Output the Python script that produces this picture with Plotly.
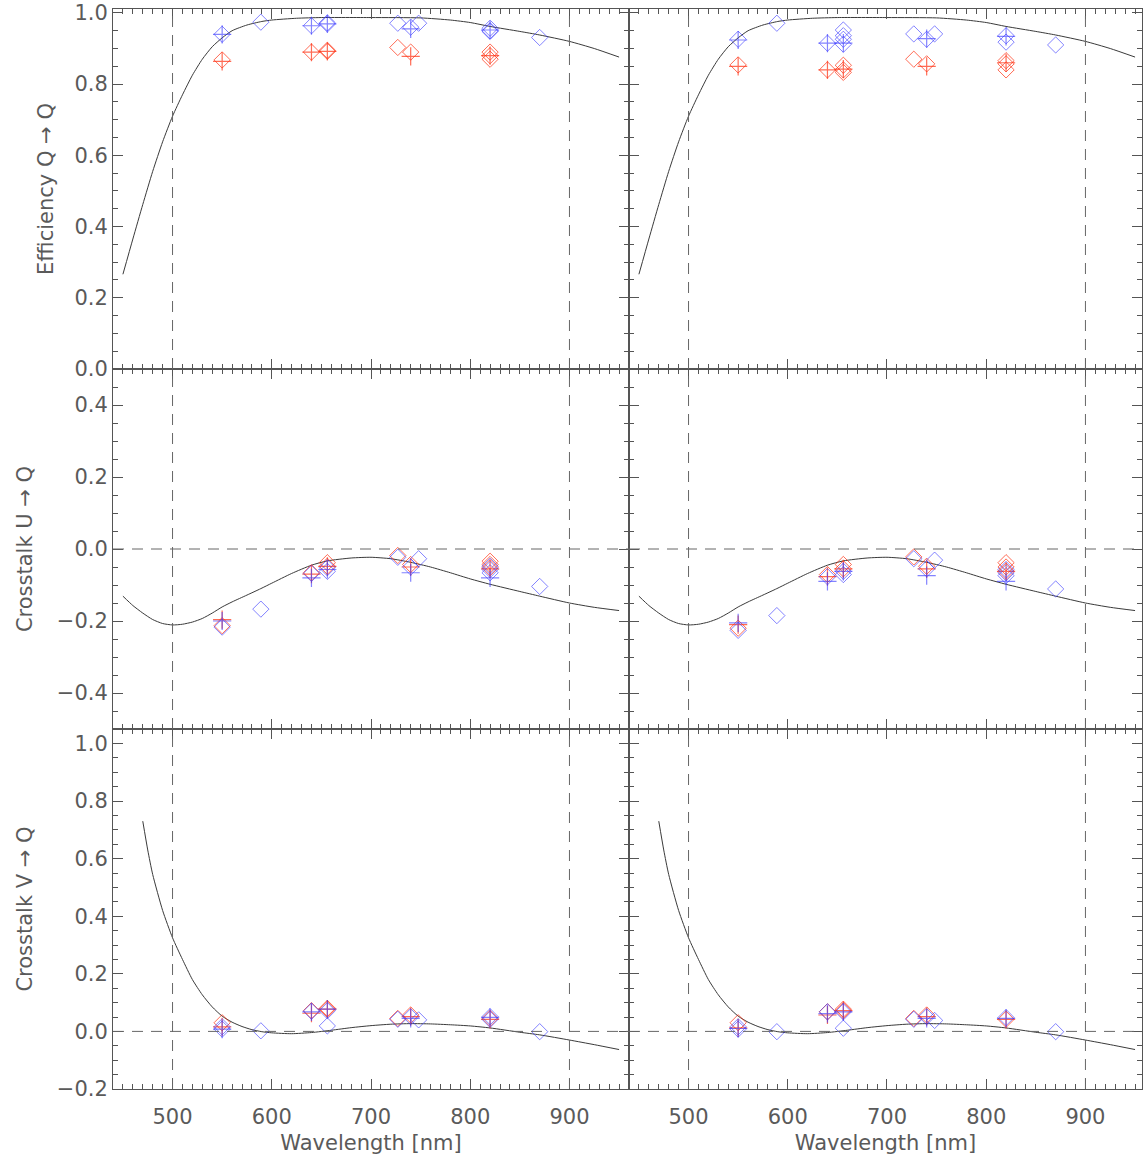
import plotly.graph_objects as go
from plotly.subplots import make_subplots

# ---------------- model curves ----------------
wl_eff = [450, 460, 470, 480, 490, 500, 510, 520, 530, 540, 550, 560, 575, 590, 600, 625,
          650, 700, 750, 780, 800, 820, 850, 870, 900, 925, 950]
eff_curve = [0.266, 0.365, 0.462, 0.555, 0.638, 0.71, 0.77, 0.825, 0.87, 0.905, 0.93, 0.95,
             0.966, 0.976, 0.98, 0.985, 0.987, 0.987, 0.986, 0.98, 0.973, 0.962, 0.948,
             0.938, 0.92, 0.9, 0.876]

wl_u = [450, 460, 470, 480, 490, 500, 510, 520, 530, 540, 550, 560, 575, 589, 600, 620, 640,
        656, 680, 700, 720, 740, 760, 780, 800, 820, 850, 870, 900, 925, 950]
u_curve = [-0.131, -0.157, -0.178, -0.196, -0.207, -0.211, -0.209, -0.203, -0.193, -0.178,
           -0.161, -0.147, -0.128, -0.11, -0.095, -0.068, -0.045, -0.033, -0.025, -0.023,
           -0.027, -0.037, -0.05, -0.066, -0.083, -0.098, -0.118, -0.131, -0.15, -0.162, -0.171]

wl_v = [470, 475, 480, 490, 500, 510, 520, 530, 540, 550, 560, 570, 580, 590, 600, 620, 640,
        660, 680, 700, 720, 740, 760, 780, 800, 820, 850, 870, 900, 925, 950]
v_curve = [0.73, 0.63, 0.545, 0.42, 0.325, 0.25, 0.18, 0.127, 0.085, 0.053, 0.032, 0.017,
           0.006, -0.001, -0.005, -0.008, -0.004, 0.004, 0.013, 0.02, 0.025, 0.027, 0.026,
           0.023, 0.019, 0.012, -0.003, -0.012, -0.03, -0.046, -0.063]

# ---------------- measured points ----------------
wl_plus = [550, 640, 656, 740, 820]

# Efficiency Q -> Q, left
qq_l_rd_wl = [550, 640, 656, 656, 727, 740, 820, 820, 820]
qq_l_rd = [0.868, 0.89, 0.892, 0.895, 0.903, 0.89, 0.89, 0.88, 0.87]
qq_l_bd_wl = [550, 589, 640, 656, 656, 727, 740, 748, 820, 820, 820, 870]
qq_l_bd = [0.94, 0.974, 0.964, 0.969, 0.972, 0.971, 0.96, 0.971, 0.957, 0.95, 0.948, 0.931]
qq_l_rp = [0.864, 0.89, 0.892, 0.878, 0.88]
qq_l_bp = [0.94, 0.964, 0.969, 0.955, 0.952]

# Efficiency Q -> Q, right
qq_r_rd_wl = [550, 640, 656, 656, 656, 727, 740, 820, 820, 820]
qq_r_rd = [0.854, 0.84, 0.853, 0.84, 0.833, 0.87, 0.857, 0.866, 0.857, 0.84]
qq_r_bd_wl = [550, 589, 640, 656, 656, 656, 656, 727, 740, 748, 820, 820, 870]
qq_r_bd = [0.926, 0.971, 0.915, 0.952, 0.936, 0.926, 0.912, 0.941, 0.926, 0.941, 0.936, 0.918, 0.91]
qq_r_rp = [0.85, 0.84, 0.842, 0.85, 0.86]
qq_r_bp = [0.924, 0.915, 0.915, 0.928, 0.934]

# Crosstalk U -> Q, left
uq_l_rd_wl = [550, 640, 656, 656, 727, 740, 820, 820, 820]
uq_l_rd = [-0.213, -0.066, -0.038, -0.048, -0.018, -0.043, -0.034, -0.043, -0.052]
uq_l_bd_wl = [550, 589, 640, 656, 656, 727, 740, 748, 820, 820, 820, 870]
uq_l_bd = [-0.217, -0.167, -0.068, -0.052, -0.062, -0.023, -0.05, -0.027, -0.048, -0.057, -0.066, -0.104]
uq_l_rp = [-0.196, -0.07, -0.048, -0.05, -0.055]
uq_l_bp = [-0.2, -0.08, -0.057, -0.066, -0.08]

# Crosstalk U -> Q, right
uq_r_rd_wl = [550, 640, 656, 656, 727, 740, 820, 820, 820]
uq_r_rd = [-0.22, -0.071, -0.043, -0.055, -0.022, -0.048, -0.038, -0.05, -0.062]
uq_r_bd_wl = [550, 589, 640, 656, 656, 727, 740, 748, 820, 820, 820, 870]
uq_r_bd = [-0.226, -0.185, -0.077, -0.062, -0.071, -0.027, -0.055, -0.031, -0.057, -0.066, -0.074, -0.111]
uq_r_rp = [-0.21, -0.077, -0.055, -0.055, -0.062]
uq_r_bp = [-0.205, -0.09, -0.062, -0.074, -0.09]

# Crosstalk V -> Q, left
vq_l_rd_wl = [550, 640, 656, 656, 727, 740, 820]
vq_l_rd = [0.03, 0.072, 0.08, 0.077, 0.045, 0.057, 0.045]
vq_l_bd_wl = [550, 550, 589, 640, 656, 656, 727, 740, 748, 820, 820, 870]
vq_l_bd = [0.016, 0.008, 0.002, 0.07, 0.072, 0.019, 0.042, 0.051, 0.04, 0.051, 0.042, -0.001]
vq_l_rp = [0.016, 0.063, 0.077, 0.051, 0.042]
vq_l_bp = [0.008, 0.068, 0.077, 0.045, 0.049]

# Crosstalk V -> Q, right
vq_r_rd_wl = [550, 640, 656, 656, 727, 740, 820]
vq_r_rd = [0.03, 0.068, 0.077, 0.072, 0.045, 0.057, 0.042]
vq_r_bd_wl = [550, 550, 589, 640, 656, 656, 727, 740, 748, 820, 870]
vq_r_bd = [0.016, 0.008, -0.001, 0.068, 0.068, 0.011, 0.042, 0.051, 0.038, 0.048, -0.001]
vq_r_rp = [0.012, 0.057, 0.072, 0.051, 0.042]
vq_r_bp = [0.01, 0.062, 0.068, 0.045, 0.045]

y_titles = ["Efficiency Q \u2192 Q", "Crosstalk U \u2192 Q", "Crosstalk V \u2192 Q"]
x_title = "Wavelength [nm]"

# ---------------- styling ----------------
RED = "rgba(255,50,20,0.72)"
BLUE = "rgba(55,55,255,0.62)"
AX = "#555555"
FONT = dict(family="DejaVu Sans", size=21, color="#5a5a5a")
TFONT = dict(family="DejaVu Sans", size=21, color="#5a5a5a")

fig = make_subplots(rows=3, cols=2, horizontal_spacing=0, vertical_spacing=0)

panels = [
    (1, 1, wl_eff, eff_curve, qq_l_rd_wl, qq_l_rd, qq_l_bd_wl, qq_l_bd, qq_l_rp, qq_l_bp),
    (1, 2, wl_eff, eff_curve, qq_r_rd_wl, qq_r_rd, qq_r_bd_wl, qq_r_bd, qq_r_rp, qq_r_bp),
    (2, 1, wl_u, u_curve, uq_l_rd_wl, uq_l_rd, uq_l_bd_wl, uq_l_bd, uq_l_rp, uq_l_bp),
    (2, 2, wl_u, u_curve, uq_r_rd_wl, uq_r_rd, uq_r_bd_wl, uq_r_bd, uq_r_rp, uq_r_bp),
    (3, 1, wl_v, v_curve, vq_l_rd_wl, vq_l_rd, vq_l_bd_wl, vq_l_bd, vq_l_rp, vq_l_bp),
    (3, 2, wl_v, v_curve, vq_r_rd_wl, vq_r_rd, vq_r_bd_wl, vq_r_bd, vq_r_rp, vq_r_bp),
]

for (r, c, cw, cv, rdw, rd, bdw, bd, rp, bp) in panels:
    fig.add_trace(go.Scatter(x=cw, y=cv, mode="lines", line=dict(color="#3a3a3a", width=1,
                             shape="spline", smoothing=0.6), showlegend=False,
                             hoverinfo="skip"), row=r, col=c)
    fig.add_trace(go.Scatter(x=rdw, y=rd, mode="markers",
                             marker=dict(symbol="diamond-open", size=12.5, color=RED,
                                         line=dict(color=RED, width=1)),
                             showlegend=False), row=r, col=c)
    fig.add_trace(go.Scatter(x=wl_plus, y=rp, mode="markers",
                             marker=dict(symbol="cross-thin-open", size=13, color=RED,
                                         line=dict(color=RED, width=1.2)),
                             showlegend=False), row=r, col=c)
    fig.add_trace(go.Scatter(x=bdw, y=bd, mode="markers",
                             marker=dict(symbol="diamond-open", size=12.5, color=BLUE,
                                         line=dict(color=BLUE, width=1)),
                             showlegend=False), row=r, col=c)
    fig.add_trace(go.Scatter(x=wl_plus, y=bp, mode="markers",
                             marker=dict(symbol="cross-thin-open", size=13, color=BLUE,
                                         line=dict(color=BLUE, width=1.2)),
                             showlegend=False), row=r, col=c)
    for xv in (500, 900):
        fig.add_vline(x=xv, line=dict(color="#666666", width=1, dash="11px,8px"), row=r, col=c)
    if r > 1:
        fig.add_hline(y=0, line=dict(color="#666666", width=1, dash="11px,8px"), row=r, col=c)

W, H = 1143, 1160
ml, mr, mt, mb = 113, 1, 9, 71
pw = W - ml - mr
split = 516 / pw

y_ranges = {1: [0.0, 1.011], 2: [-0.5, 0.5], 3: [-0.2, 1.05]}
y_ticks = {1: [0, 0.2, 0.4, 0.6, 0.8, 1.0], 2: [-0.4, -0.2, 0, 0.2, 0.4],
           3: [-0.2, 0, 0.2, 0.4, 0.6, 0.8, 1.0]}
y_domains = {1: [2 / 3, 1], 2: [1 / 3, 2 / 3], 3: [0, 1 / 3]}
y_standoff = {1: 15, 2: 18, 3: 18}

common = dict(showline=True, linecolor=AX, linewidth=1, mirror="ticks", ticks="inside",
              ticklen=10, tickcolor=AX, tickwidth=1, showgrid=False, zeroline=False,
              tickfont=FONT, automargin=False)

for r in (1, 2, 3):
    for c in (1, 2):
        idx = (r - 1) * 2 + c
        xa = "xaxis" if idx == 1 else f"xaxis{idx}"
        ya = "yaxis" if idx == 1 else f"yaxis{idx}"
        xr = [440, 960] if c == 1 else [440, 957]
        xdom = [0, split] if c == 1 else [split, 1]
        xd = dict(common, range=xr, domain=xdom, tickvals=[500, 600, 700, 800, 900],
                  showticklabels=(r == 3), ticklabelstandoff=9,
                  minor=dict(dtick=10, tick0=0, ticks="inside", ticklen=5, tickcolor=AX,
                             showgrid=False))
        if r == 3:
            xd["title"] = dict(text=x_title, font=TFONT, standoff=7)
        yd = dict(common, range=y_ranges[r], domain=y_domains[r], tickvals=y_ticks[r],
                  tickformat=".1f", showticklabels=(c == 1),
                  minor=dict(dtick=0.05, tick0=0, ticks="inside", ticklen=5, tickcolor=AX,
                             showgrid=False))
        if c == 1:
            yd["title"] = dict(text=y_titles[r - 1], font=TFONT, standoff=y_standoff[r])
        fig.layout[xa].update(xd)
        fig.layout[ya].update(yd)

fig.update_layout(width=W, height=H, margin=dict(l=ml, r=mr, t=mt, b=mb),
                  plot_bgcolor="white", paper_bgcolor="white", showlegend=False)

fig.write_html("out.html", config={"displayModeBar": False},
               post_script="document.body.style.margin='0';document.body.style.overflow='hidden';")
